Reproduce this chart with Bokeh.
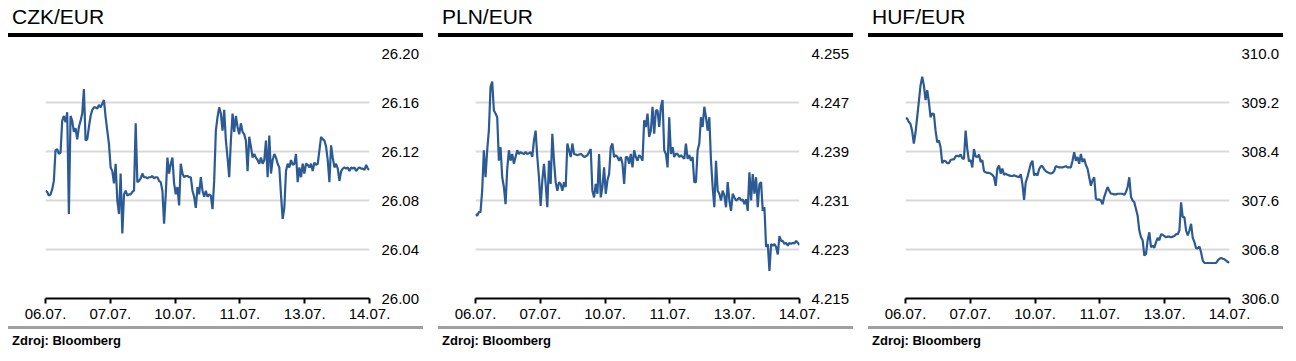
import numpy as np
from bokeh.plotting import figure
from bokeh.models import Range1d, FixedTicker, NumeralTickFormatter, Div
from bokeh.layouts import row, column
from bokeh.embed import file_html
from bokeh.resources import INLINE

# ---------------- data ----------------
days = ["06.07.", "07.07.", "10.07.", "11.07.", "13.07.", "14.07."]

czk = [26.088, 26.087, 26.084, 26.085, 26.089, 26.096, 26.121, 26.122, 26.118, 26.119,
       26.145, 26.149, 26.144, 26.152, 26.069, 26.149, 26.145, 26.136, 26.139, 26.130,
       26.140, 26.145, 26.151, 26.171, 26.129, 26.130, 26.140, 26.149, 26.154, 26.156,
       26.156, 26.155, 26.158, 26.156, 26.159, 26.162, 26.148, 26.137, 26.126, 26.107,
       26.104, 26.094, 26.110, 26.080, 26.069, 26.102, 26.053, 26.085, 26.088, 26.084,
       26.085, 26.085, 26.087, 26.088, 26.143, 26.095, 26.096, 26.098, 26.102, 26.099,
       26.099, 26.098, 26.099, 26.099, 26.100, 26.098, 26.099, 26.099, 26.096, 26.095,
       26.088, 26.061, 26.085, 26.115, 26.102, 26.110, 26.115, 26.094, 26.085, 26.091,
       26.076, 26.110, 26.102, 26.099, 26.100, 26.100, 26.099, 26.099, 26.088, 26.083,
       26.074, 26.091, 26.085, 26.099, 26.088, 26.083, 26.088, 26.083, 26.085, 26.084,
       26.073, 26.096, 26.137, 26.148, 26.156, 26.151, 26.137, 26.154, 26.129, 26.115,
       26.099, 26.129, 26.151, 26.136, 26.149, 26.140, 26.134, 26.143, 26.136, 26.134,
       26.129, 26.104, 26.132, 26.124, 26.115, 26.118, 26.115, 26.113, 26.110, 26.115,
       26.110, 26.113, 26.129, 26.099, 26.133, 26.102, 26.113, 26.118, 26.115, 26.110,
       26.107, 26.085, 26.065, 26.074, 26.104, 26.110, 26.107, 26.113, 26.109, 26.110,
       26.118, 26.095, 26.107, 26.099, 26.110, 26.102, 26.110, 26.109, 26.107, 26.110,
       26.104, 26.111, 26.109, 26.110, 26.121, 26.132, 26.130, 26.129, 26.124, 26.113,
       26.095, 26.125, 26.115, 26.107, 26.110, 26.106, 26.096, 26.104, 26.106, 26.107,
       26.106, 26.107, 26.104, 26.107, 26.106, 26.107, 26.104, 26.106, 26.107, 26.106,
       26.106, 26.105, 26.109, 26.106, 26.105]

pln = [4.2288, 4.2285, 4.2291, 4.2291, 4.2326, 4.2392, 4.2348, 4.2392, 4.2424, 4.2495,
       4.2504, 4.2457, 4.2452, 4.2446, 4.2375, 4.2397, 4.2348, 4.2332, 4.2304, 4.2362,
       4.2392, 4.2375, 4.2386, 4.2370, 4.2381, 4.2392, 4.2386, 4.2389, 4.2387, 4.2386,
       4.2389, 4.2386, 4.2387, 4.2389, 4.2381, 4.2408, 4.2424, 4.2381, 4.2348, 4.2301,
       4.2343, 4.2370, 4.2337, 4.2299, 4.2375, 4.2337, 4.2419, 4.2375, 4.2340, 4.2326,
       4.2340, 4.2337, 4.2326, 4.2340, 4.2332, 4.2403, 4.2392, 4.2381, 4.2403, 4.2386,
       4.2385, 4.2384, 4.2385, 4.2386, 4.2384, 4.2381, 4.2382, 4.2384, 4.2389, 4.2394,
       4.2326, 4.2315, 4.2337, 4.2321, 4.2386, 4.2315, 4.2332, 4.2364, 4.2321, 4.2343,
       4.2353, 4.2397, 4.2403, 4.2381, 4.2384, 4.2381, 4.2375, 4.2381, 4.2370, 4.2337,
       4.2381, 4.2381, 4.2370, 4.2386, 4.2364, 4.2392, 4.2381, 4.2375, 4.2384, 4.2381,
       4.2375, 4.2441, 4.2430, 4.2452, 4.2414, 4.2424, 4.2463, 4.2419, 4.2457, 4.2457,
       4.2430, 4.2463, 4.2474, 4.2392, 4.2386, 4.2364, 4.2446, 4.2386, 4.2397, 4.2381,
       4.2386, 4.2386, 4.2381, 4.2384, 4.2381, 4.2378, 4.2403, 4.2378, 4.2384, 4.2375,
       4.2381, 4.2340, 4.2340, 4.2392, 4.2403, 4.2446, 4.2430, 4.2463, 4.2446, 4.2424,
       4.2446, 4.2375, 4.2332, 4.2299, 4.2375, 4.2326, 4.2321, 4.2310, 4.2326, 4.2318,
       4.2299, 4.2340, 4.2310, 4.2293, 4.2321, 4.2315, 4.2310, 4.2312, 4.2315, 4.2310,
       4.2312, 4.2304, 4.2312, 4.2293, 4.2356, 4.2310, 4.2353, 4.2321, 4.2348, 4.2299,
       4.2337, 4.2340, 4.2293, 4.2299, 4.2234, 4.2239, 4.2195, 4.2239, 4.2236, 4.2239,
       4.2234, 4.2222, 4.2252, 4.2244, 4.2244, 4.2239, 4.2241, 4.2236, 4.2241, 4.2239,
       4.2241, 4.2240, 4.2244, 4.2241, 4.2237]

huf = [308.94, 308.94, 308.88, 308.85, 308.73, 308.53, 308.71, 308.96, 309.22, 309.48,
       309.62, 309.48, 309.24, 309.40, 309.21, 308.96, 309.02, 309.01, 308.74, 308.55,
       308.58, 308.47, 308.21, 308.25, 308.24, 308.21, 308.21, 308.26, 308.27, 308.27,
       308.32, 308.33, 308.32, 308.35, 308.29, 308.28, 308.74, 308.44, 308.24, 308.26,
       308.14, 308.44, 308.32, 308.31, 308.35, 308.23, 308.26, 308.08, 308.06, 308.05,
       308.05, 308.04, 308.02, 307.98, 307.84, 308.12, 308.17, 308.04, 308.12, 308.02,
       308.04, 308.02, 308.01, 308.00, 308.00, 308.01, 308.00, 307.99, 307.98, 308.03,
       307.87, 307.61, 307.90, 307.98, 308.09, 308.20, 308.25, 308.01, 308.04, 308.01,
       308.11, 308.16, 308.16, 308.11, 308.08, 308.06, 308.05, 308.04, 308.05, 308.08,
       308.16, 308.15, 308.14, 308.14, 308.14, 308.15, 308.16, 308.14, 308.14, 308.14,
       308.25, 308.39, 308.25, 308.31, 308.20, 308.36, 308.23, 308.28, 308.18, 308.12,
       307.98, 307.84, 307.93, 307.98, 307.63, 307.61, 307.62, 307.60, 307.54, 307.66,
       307.74, 307.82, 307.76, 307.71, 307.71, 307.70, 307.70, 307.71, 307.71, 307.71,
       307.71, 307.69, 307.74, 307.82, 307.98, 307.66, 307.60, 307.57, 307.46, 307.35,
       307.11, 307.00, 306.95, 306.70, 306.73, 306.95, 307.08, 306.84, 306.86, 306.83,
       306.92, 306.99, 306.95, 307.05, 307.04, 307.02, 307.00, 307.01, 307.01, 307.00,
       307.01, 307.02, 307.05, 307.05, 307.11, 307.57, 307.33, 307.33, 307.11, 307.03,
       307.11, 307.22, 306.99, 306.92, 306.82, 306.82, 306.85, 306.75, 306.62, 306.58,
       306.58, 306.58, 306.58, 306.58, 306.58, 306.58, 306.58, 306.62, 306.65, 306.66,
       306.65, 306.64, 306.62, 306.59, 306.60]

czk_ticks = [26.00, 26.04, 26.08, 26.12, 26.16, 26.20]
pln_ticks = [4.215, 4.223, 4.231, 4.239, 4.247, 4.255]
huf_ticks = [306.0, 306.8, 307.6, 308.4, 309.2, 310.0]

titles = ["CZK/EUR", "PLN/EUR", "HUF/EUR"]
source = "Zdroj: Bloomberg"

# ---------------- styling ----------------
FONT = "Liberation Sans"
LINE_COLOR = "#2b5a94"
GRID_COLOR = "#d9d9d9"


def panel(title, values, ticks, fmt):
    head = Div(
        text=(f'<div style="box-sizing:content-box;width:411px;height:27px;padding-left:4px;'
              f'padding-top:6px;border-bottom:4px solid #000;font-family:\'{FONT}\';'
              f'font-size:21px;line-height:21px;color:#000;">{title}</div>'),
        width=415, height=37, margin=(0, 0, 0, 0))

    p = figure(width=415, height=289, output_backend="svg", toolbar_location=None, tools="",
               x_range=Range1d(0, len(days) - 1), y_range=Range1d(ticks[0], ticks[-1]),
               y_axis_location="right", min_border_left=37, min_border_right=54,
               min_border_top=16, min_border_bottom=28, margin=(0, 0, 0, 0))
    p.outline_line_color = None
    p.background_fill_color = "white"
    p.border_fill_color = "white"

    x = np.linspace(0, len(days) - 1, len(values))
    p.line(x, values, line_color=LINE_COLOR, line_width=2.2)

    # x axis
    xa = p.xaxis[0]
    xa.ticker = FixedTicker(ticks=list(range(len(days))))
    xa.major_label_overrides = {i: d for i, d in enumerate(days)}
    xa.axis_line_color = "black"
    xa.axis_line_width = 2
    xa.major_tick_line_color = "black"
    xa.major_tick_line_width = 2
    xa.major_tick_out = 5
    xa.major_tick_in = 0
    xa.minor_tick_line_color = None
    xa.minor_tick_out = 0
    xa.major_label_standoff = 5
    xa.major_label_text_font = FONT
    xa.major_label_text_font_size = "15px"
    xa.major_label_text_color = "black"

    # y axis (right)
    ya = p.yaxis[0]
    ya.ticker = FixedTicker(ticks=ticks)
    ya.formatter = NumeralTickFormatter(format=fmt)
    ya.axis_line_color = None
    ya.major_tick_line_color = None
    ya.major_tick_out = 0
    ya.major_tick_in = 0
    ya.minor_tick_line_color = None
    ya.minor_tick_out = 0
    ya.major_label_standoff = 12
    ya.major_label_text_font = FONT
    ya.major_label_text_font_size = "15px"
    ya.major_label_text_color = "black"

    p.xgrid.grid_line_color = None
    p.ygrid.ticker = FixedTicker(ticks=ticks)
    p.ygrid.grid_line_color = GRID_COLOR
    p.ygrid.grid_line_width = 2

    foot = Div(
        text=(f'<div style="box-sizing:content-box;width:411px;padding-left:4px;padding-top:5px;'
              f'border-top:3px solid #a0a0a0;font-family:\'{FONT}\';font-size:13px;'
              f'font-weight:bold;line-height:13px;color:#000;">{source}</div>'),
        width=415, height=24, margin=(0, 0, 0, 0))
    return column(head, p, foot, spacing=0)


layout = row(
    panel(titles[0], czk, czk_ticks, "0.00"),
    panel(titles[1], pln, pln_ticks, "0.000"),
    panel(titles[2], huf, huf_ticks, "0.0"),
    spacing=15, margin=(0, 0, 0, 8),
)

open("out.html", "w").write(file_html(layout, INLINE))
